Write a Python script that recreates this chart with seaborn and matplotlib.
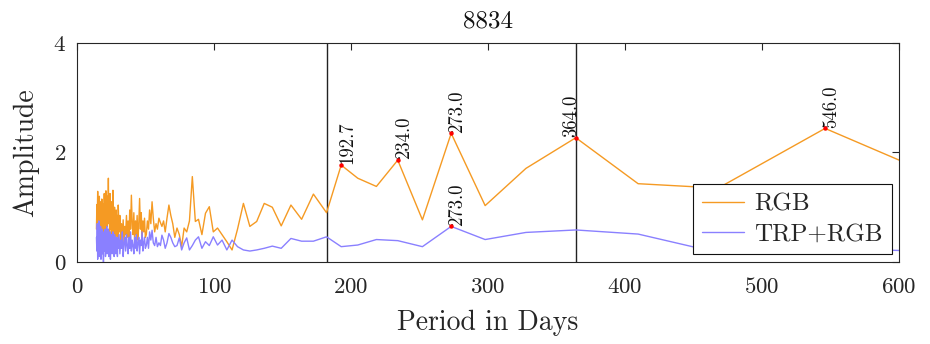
import matplotlib
matplotlib.use("Agg")
import matplotlib.pyplot as plt
import pandas as pd
import seaborn as sns

# ---------------- data ----------------
period_a = [14.0, 14.3, 14.6, 14.9, 15.2, 15.5, 15.8, 16.1, 16.4, 16.7,
            17.0, 17.3, 17.6, 17.9, 18.2, 18.5, 18.8, 19.1, 19.4, 19.7,
            20.0, 20.3, 20.6, 20.9, 21.2, 21.5, 21.8, 22.1, 22.4, 22.7,
            23.0, 23.3, 23.6, 23.9, 24.2, 24.5, 24.8, 25.1, 25.4, 25.7,
            26.0, 26.3, 26.6, 26.9, 27.2, 27.5, 27.8, 28.1, 28.4, 28.7,
            29.0, 29.3, 29.6, 29.9]
period_b = [30.5, 31.1, 31.7, 32.3, 32.9, 33.5, 34.1, 34.7, 35.3, 35.9,
            36.5, 37.1, 37.7, 38.3, 38.9, 39.5, 40.1, 40.7, 41.3, 41.9,
            42.5, 43.1, 43.7, 44.3, 44.9, 45.5, 46.1, 46.7, 47.3, 47.9,
            48.5, 49.1, 49.7]
period_c = [50.4, 51.2, 52.0, 52.8, 53.7, 54.6, 55.5, 56.5, 57.5, 58.5,
            59.6, 60.7, 61.8, 63.0, 64.2, 65.5, 66.9, 68.3, 69.7, 71.2,
            72.8, 74.5, 76.2, 78.0, 79.9, 81.9, 84.0, 86.2, 88.5, 91.0,
            93.6, 96.4, 99.3, 102.4, 105.7, 109.2, 113.0, 117.0, 121.3, 126.0,
            131.0, 136.5, 142.4, 148.9, 156.0, 163.8, 172.4, 182.0, 192.7, 204.8,
            218.4, 234.0, 252.0, 273.0, 297.8, 327.6, 364.0, 409.5, 468.0, 546.0,
            655.2]

rgb_a = [0.60, 1.05, 0.75, 1.29, 0.55, 0.95, 0.50, 1.20, 0.80, 1.10,
         0.50, 0.95, 0.65, 1.15, 0.45, 1.07, 0.75, 0.95, 0.55, 1.25,
         0.70, 1.00, 0.60, 1.30, 0.85, 1.10, 0.65, 1.20, 0.80, 1.53,
         0.70, 1.15, 0.50, 1.25, 0.90, 0.60, 1.10, 0.45, 0.95, 0.70,
         1.31, 0.55, 0.90, 0.40, 1.00, 0.60, 0.85, 0.35, 0.95, 0.65,
         0.50, 0.85, 0.40, 1.04]
rgb_b = [0.55, 0.85, 0.40, 0.70, 0.45, 0.77, 0.35, 0.65, 0.50, 0.85,
         0.45, 0.75, 0.40, 0.95, 0.60, 1.22, 0.70, 0.50, 0.90, 0.35,
         0.75, 0.50, 0.85, 0.40, 0.70, 1.16, 0.60, 0.90, 0.45, 0.75,
         0.55, 0.80, 0.45]
rgb_c = [0.50, 0.75, 0.60, 0.95, 0.70, 1.10, 0.80, 0.55, 0.70, 0.60,
         0.80, 0.72, 0.65, 0.75, 0.55, 0.80, 1.04, 0.85, 0.70, 0.45,
         0.62, 0.50, 0.28, 0.62, 0.55, 0.75, 1.56, 0.74, 0.78, 0.50,
         0.89, 1.01, 0.55, 0.62, 0.50, 0.37, 0.22, 0.60, 1.07, 0.65,
         0.74, 1.07, 1.00, 0.66, 1.04, 0.78, 1.24, 0.90, 1.77, 1.53,
         1.38, 1.86, 0.77, 2.35, 1.03, 1.71, 2.27, 1.43, 1.35, 2.44,
         1.27]

trp_a = [0.45, 0.20, 0.70, 0.05, 0.55, 0.30, 0.75, 0.10, 0.50, 0.25,
         0.65, 0.05, 0.45, 0.30, 0.60, 0.15, 0.50, 0.00, 0.55, 0.35,
         0.20, 0.60, 0.10, 0.45, 0.30, 0.65, 0.15, 0.50, 0.25, 0.60,
         0.10, 0.45, 0.30, 0.55, 0.05, 0.40, 0.20, 0.50, 0.15, 0.35,
         0.55, 0.20, 0.40, 0.10, 0.50, 0.25, 0.45, 0.15, 0.35, 0.20,
         0.45, 0.10, 0.40, 0.25]
trp_b = [0.50, 0.15, 0.40, 0.25, 0.55, 0.10, 0.35, 0.45, 0.20, 0.50,
         0.30, 0.15, 0.45, 0.25, 0.55, 0.20, 0.40, 0.30, 0.15, 0.45,
         0.25, 0.50, 0.20, 0.35, 0.45, 0.15, 0.40, 0.30, 0.55, 0.20,
         0.35, 0.45, 0.25]
trp_c = [0.30, 0.45, 0.25, 0.55, 0.40, 0.58, 0.35, 0.30, 0.45, 0.28,
         0.35, 0.30, 0.49, 0.40, 0.25, 0.35, 0.52, 0.45, 0.35, 0.28,
         0.30, 0.44, 0.22, 0.35, 0.44, 0.22, 0.30, 0.40, 0.46, 0.25,
         0.37, 0.30, 0.46, 0.31, 0.40, 0.22, 0.40, 0.28, 0.22, 0.20,
         0.22, 0.25, 0.29, 0.25, 0.43, 0.38, 0.38, 0.46, 0.28, 0.31,
         0.41, 0.39, 0.28, 0.65, 0.41, 0.54, 0.585, 0.51, 0.17, 0.25,
         0.17]

series_names = ["RGB", "TRP+RGB"]
peaks_rgb = [192.7, 234.0, 273.0, 364.0, 546.0]
peaks_trp = [273.0]
marker_lines = [182, 364]
x_ticks = [0, 100, 200, 300, 400, 500, 600]
y_ticks = [0, 2, 4]
title = "8834"
x_label = "Period in Days"
y_label = "Amplitude"

period = period_a + period_b + period_c
rgb = rgb_a + rgb_b + rgb_c
trp = trp_a + trp_b + trp_c
assert len(period) == len(rgb) == len(trp)

df = pd.DataFrame({
    "period": period + period,
    "amp": rgb + trp,
    "series": [series_names[0]] * len(period) + [series_names[1]] * len(period),
})

# ---------------- style ----------------
sns.set_theme(style="white")
plt.rcParams.update({
    "font.family": ["cmr10", "DejaVu Sans"],
    "mathtext.fontset": "cm",
    "axes.formatter.use_mathtext": True,
    "axes.unicode_minus": False,
})

colors = {"RGB": "#F59A23", "TRP+RGB": "#8A80FF"}

fig = plt.figure(figsize=(9.3, 3.44), dpi=100)
ax = fig.add_axes([0.0831, 0.2384, 0.8836, 0.6366])

sns.lineplot(data=df, x="period", y="amp", hue="series", palette=colors,
             estimator=None, sort=True, linewidth=1.0, ax=ax)

for xv in marker_lines:
    ax.axvline(xv, color="#222222", linewidth=1.0, zorder=1.5)


def mark(p, v):
    ax.plot([p], [v], "o", color="red", markersize=2.2, zorder=4)
    dx = -3.5 if p in marker_lines else 4.5
    ax.annotate(f"{p:.1f}", (p, v), xytext=(dx, 0.5), textcoords="offset points",
                rotation=90, rotation_mode="anchor", ha="left", va="center",
                fontsize=13.5, color="#111111")


for p in peaks_rgb:
    mark(p, rgb[period.index(p)])
for p in peaks_trp:
    mark(p, trp[period.index(p)])

ax.set_xlim(0, 600)
ax.set_ylim(0, 4)
ax.set_xticks(x_ticks)
ax.set_yticks(y_ticks)
ax.tick_params(direction="in", top=True, right=True, length=5, width=0.8,
               labelsize=16.5, colors="#262626")
ax.tick_params(axis="x", pad=11)
ax.tick_params(axis="y", pad=8)
for s in ax.spines.values():
    s.set_color("#262626")
    s.set_linewidth(0.8)

ax.set_xlabel(x_label, fontsize=20, color="#262626", labelpad=9)
ax.set_ylabel(y_label, fontsize=20, color="#262626", labelpad=10)
ax.set_title(title, fontsize=18, color="#111111", pad=11)

leg = ax.legend(loc="lower right", fontsize=18, frameon=True, fancybox=False,
                framealpha=1, edgecolor="#111111", handlelength=1.7,
                borderaxespad=0.3, borderpad=0.35, labelspacing=0.3,
                handletextpad=0.4)
leg.get_frame().set_linewidth(0.8)
for line in leg.get_lines():
    line.set_linewidth(1.0)

fig.savefig("out.png", dpi=100)
